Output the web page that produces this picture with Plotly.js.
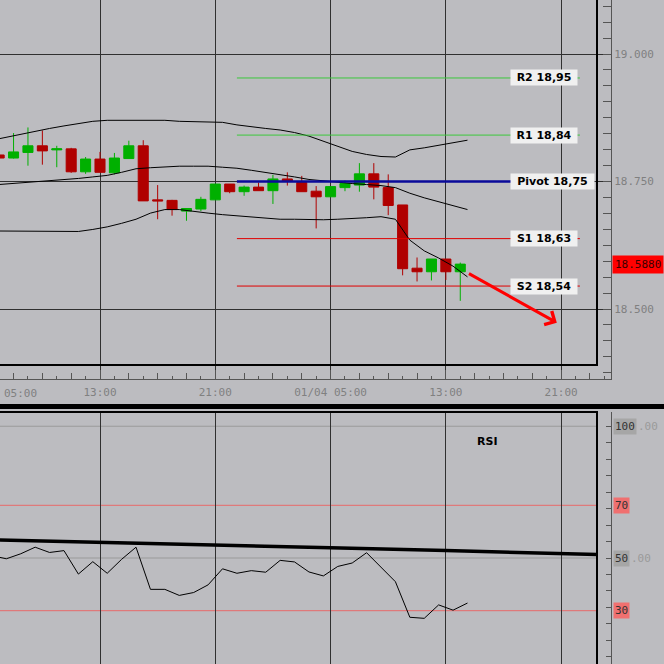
<!DOCTYPE html>
<html><head><meta charset="utf-8">
<script src="https://cdn.plot.ly/plotly-3.0.1.min.js"></script>
<style>html,body{margin:0;padding:0;background:#bcbcc0;}#chart{width:664px;height:664px;}</style>
</head><body><div id="chart"></div>
<script>
// ---- data (hours relative to 31/03 13:00) ----
const hours = [-7,-6,-5,-4,-3,-2,-1,0,1,2,3,4,5,6,7,8,9,10,11,12,13,14,15,16,17,18,19,20,21,22,23,24,25];
const open  = [18.802,18.796,18.807,18.820,18.812,18.814,18.769,18.794,18.767,18.795,18.820,18.714,18.713,18.692,18.696,18.714,18.745,18.730,18.739,18.732,18.755,18.748,18.731,18.720,18.738,18.743,18.765,18.738,18.704,18.580,18.573,18.598,18.573];
const high  = [18.804,18.845,18.856,18.850,18.820,18.816,18.798,18.808,18.806,18.830,18.831,18.743,18.714,18.698,18.720,18.745,18.745,18.742,18.748,18.763,18.768,18.761,18.741,18.740,18.752,18.786,18.786,18.764,18.704,18.601,18.598,18.598,18.591];
const low   = [18.794,18.795,18.781,18.783,18.778,18.767,18.765,18.768,18.764,18.795,18.712,18.676,18.683,18.673,18.692,18.714,18.727,18.722,18.732,18.706,18.742,18.730,18.658,18.720,18.731,18.730,18.715,18.684,18.566,18.554,18.556,18.557,18.516];
const close = [18.796,18.808,18.820,18.810,18.814,18.769,18.794,18.768,18.796,18.820,18.712,18.712,18.695,18.697,18.715,18.745,18.730,18.739,18.732,18.755,18.750,18.730,18.720,18.740,18.746,18.765,18.739,18.703,18.579,18.573,18.598,18.573,18.588];

const indicatorHours = [-7.5,-6.5,-5.5,-4.5,-3.5,-2.5,-1.5,-0.5,0.5,1.5,2.5,3.5,4.5,5.5,6.5,7.5,8.5,9.5,10.5,11.5,12.5,13.5,14.5,15.5,16.5,17.5,18.5,19.5,20.5,21.5,22.5,23.5,24.5,25.5];
const bandUpper  = [18.831,18.837,18.842,18.848,18.854,18.859,18.864,18.868,18.870,18.870,18.871,18.871,18.870,18.868,18.867,18.867,18.866,18.861,18.857,18.854,18.851,18.846,18.839,18.829,18.820,18.809,18.803,18.799,18.798,18.812,18.816,18.821,18.826,18.831];
const bandMiddle = [18.743,18.745,18.747,18.749,18.751,18.753,18.756,18.759,18.762,18.768,18.775,18.777,18.779,18.780,18.780,18.780,18.778,18.776,18.772,18.768,18.764,18.759,18.754,18.751,18.748,18.746,18.744,18.742,18.738,18.727,18.718,18.710,18.702,18.695];
const bandLower  = [18.653,18.653,18.652,18.652,18.652,18.652,18.652,18.656,18.661,18.668,18.676,18.688,18.695,18.695,18.691,18.688,18.685,18.683,18.681,18.678,18.676,18.676,18.675,18.675,18.676,18.677,18.679,18.681,18.676,18.635,18.614,18.600,18.584,18.563];
const rsiValues  = [50.9,49.7,51.6,54.1,52.1,52.8,43.9,48.6,44.2,49.5,54.1,38.1,38.1,35.8,36.9,39.8,45.9,44.2,45.2,44.6,49.1,48.5,44.7,43.2,46.8,48.1,52.0,46.4,41.0,27.5,27.1,32.2,30.2,32.9];

const rsiSignalHours = [-7,0,8,16,24,32,34.5];
const rsiSignal      = [56.8,56.0,55.0,53.9,52.8,51.6,51.3];

const pivotNames  = ['R2','R1','Pivot','S1','S2'];
const pivotLevels = [18.953,18.841,18.750,18.638,18.545];
const pivotLabels = ['R2 18,95','R1 18,84','Pivot 18,75','S1 18,63','S2 18,54'];
const levelSpan   = [9.5,33.3];

const timeTicks  = [0,8,16,24,32];
const timeLabels = ['13:00','21:00','01/04 05:00','13:00','21:00'];
const firstTimeLabel = '05:00';

const rsiLevels = [100,70,50,30];
const arrowFrom = [25.5,18.571];
const arrowTo   = [31.7,18.473];

// ---- geometry helpers (pixels -> paper) ----
const W = 611, H = 664;
const px = v => v / W;
const py = v => 1 - v / H;
const xRange = [-6.94, 35.46];
const yRange = [18.36275, 19.10588];
const y2Range = [9.77, 105.41];
const BG = '#bcbcc0', GRID = '#303030', AX = '#555555', TXT = '#808080';
const MONO = 'DejaVu Sans Mono';

const traces = [];
traces.push({
  type:'candlestick', x:hours, open:open, high:high, low:low, close:close,
  xaxis:'x', yaxis:'y', whiskerwidth:0, hoverinfo:'skip',
  increasing:{line:{color:'#00b000',width:1}, fillcolor:'#00b000'},
  decreasing:{line:{color:'#b00000',width:1}, fillcolor:'#b00000'}
});
[bandUpper, bandMiddle, bandLower].forEach(b => traces.push({
  type:'scatter', mode:'lines', x:indicatorHours, y:b, xaxis:'x', yaxis:'y',
  line:{color:'#000000', width:1}, hoverinfo:'skip'
}));
pivotNames.forEach((n,i) => {
  const col = n === 'Pivot' ? '#0a0a9a' : (n[0] === 'R' ? '#3cc83c' : '#e00000');
  traces.push({type:'scatter', mode:'lines', x:levelSpan, y:[pivotLevels[i],pivotLevels[i]],
    xaxis:'x', yaxis:'y', line:{color:col, width: n === 'Pivot' ? 2.5 : 1}, hoverinfo:'skip'});
});
traces.push({type:'scatter', mode:'lines', x:indicatorHours, y:rsiValues, xaxis:'x2', yaxis:'y2',
  line:{color:'#000000', width:1}, hoverinfo:'skip'});
traces.push({type:'scatter', mode:'lines', x:rsiSignalHours, y:rsiSignal, xaxis:'x2', yaxis:'y2',
  line:{color:'#000000', width:3.5}, hoverinfo:'skip'});

const shapes = [
  {type:'line', xref:'paper', yref:'paper', x0:px(597), x1:px(597), y0:py(366), y1:1, line:{color:'#000', width:2}},
  {type:'line', xref:'paper', yref:'paper', x0:0, x1:px(598), y0:py(365), y1:py(365), line:{color:'#000', width:2}},
  {type:'rect', xref:'paper', yref:'paper', x0:0, x1:px(664), y0:py(409), y1:py(404), fillcolor:'#000', line:{width:0}},
  {type:'line', xref:'paper', yref:'paper', x0:0, x1:px(598), y0:py(412), y1:py(412), line:{color:'#000', width:2}},
  {type:'line', xref:'paper', yref:'paper', x0:px(597), x1:px(597), y0:0, y1:py(412), line:{color:'#000', width:2}}
];
rsiLevels.forEach(v => shapes.push({type:'line', layer:'below', xref:'paper', yref:'y2', x0:0, x1:px(596), y0:v, y1:v,
  line:{color: (v === 70 || v === 30) ? '#e86a6a' : '#9a9a9a', width:1}}));

const annotations = [];
pivotLabels.forEach((t,i) => annotations.push({
  xref:'paper', yref:'y', x:px(510), y:pivotLevels[i], xanchor:'left', yanchor:'middle',
  text:t, showarrow:false, bgcolor:'#f0f0f0', borderpad:1,
  width: pivotNames[i] === 'Pivot' ? 81 : 64, align:'center',
  font:{family:'DejaVu Sans', size:11, color:'#000', weight:'bold'}
}));
annotations.push({xref:'paper', yref:'y', x:px(612), y:close[close.length-1], xanchor:'left', yanchor:'middle',
  text:close[close.length-1].toFixed(4), showarrow:false, bgcolor:'#ff0000', borderpad:2,
  font:{family:MONO, size:11, color:'#3a0000'}});
annotations.push({xref:'paper', yref:'paper', x:px(20), y:py(393), xanchor:'center', yanchor:'middle',
  text:firstTimeLabel, showarrow:false, font:{family:MONO, size:11, color:TXT}});
annotations.push({xref:'x', yref:'y', axref:'x', ayref:'y', x:arrowTo[0], y:arrowTo[1], ax:arrowFrom[0], ay:arrowFrom[1],
  text:'', showarrow:true, arrowhead:4, arrowsize:1, arrowwidth:3, arrowcolor:'#ff0000', standoff:0});
annotations.push({xref:'paper', yref:'paper', x:px(500), y:py(442), text:'RSI', showarrow:false,
  font:{family:'DejaVu Sans', size:11, color:'#000', weight:'bold'}});
rsiLevels.forEach(v => {
  const red = (v === 70 || v === 30);
  annotations.push({xref:'paper', yref:'y2', x:px(613), y:v, xanchor:'left', yanchor:'middle', text:String(v),
    showarrow:false, bgcolor: red ? '#f07070' : '#a6a6a6', borderpad:1, font:{family:MONO, size:11, color:'#333'}});
  if (!red) {
    const w = String(v).length * 6.6 + 2;
    annotations.push({xref:'paper', yref:'y2', x:px(614 + w), y:v, xanchor:'left', yanchor:'middle', text:'.00',
      showarrow:false, font:{family:MONO, size:11, color:'#9a9a9a'}});
  }
});

const layout = {
  width:664, height:664, margin:{l:0, r:53, t:0, b:0},
  paper_bgcolor:BG, plot_bgcolor:BG, showlegend:false, hovermode:false,
  boxgap:0.25, boxgroupgap:0.07,
  xaxis:{domain:[0,1], range:xRange, anchor:'y', rangeslider:{visible:false},
    tickmode:'array', tickvals:timeTicks, ticktext:timeLabels, ticks:'inside', ticklen:9, tickcolor:AX,
    showline:true, linecolor:AX, linewidth:1, showgrid:true, gridcolor:GRID, gridwidth:1, zeroline:false,
    tickfont:{family:MONO, size:11, color:TXT}, ticklabelstandoff:3,
    minor:{tickmode:'linear', tick0:0, dtick:1, ticks:'inside', ticklen:3, tickcolor:AX, showgrid:false}},
  xaxis3:{overlaying:'x', range:xRange, anchor:'y', tickmode:'linear', tick0:0, dtick:2, ticks:'inside', ticklen:6,
    tickcolor:AX, showticklabels:false, showgrid:false, showline:false, zeroline:false},
  yaxis:{domain:[py(379),1], range:yRange, anchor:'x', side:'right', tickmode:'linear', tick0:18.5, dtick:0.25,
    tickformat:'.3f', ticks:'inside', ticklen:8, tickcolor:AX, showline:true, linecolor:AX,
    showgrid:true, gridcolor:GRID, zeroline:false, tickfont:{family:MONO, size:11, color:TXT},
    minor:{tickmode:'linear', tick0:18.5, dtick:0.03125, ticks:'inside', ticklen:8, tickcolor:AX, showgrid:false}},
  xaxis2:{domain:[0,1], range:xRange, anchor:'y2', tickmode:'array', tickvals:timeTicks, showticklabels:false,
    ticks:'', showgrid:true, gridcolor:GRID, showline:false, zeroline:false},
  yaxis2:{domain:[0,py(412)], range:y2Range, anchor:'x2', side:'right', tickmode:'linear', tick0:0, dtick:6.25,
    ticks:'inside', ticklen:5, tickcolor:AX, showline:true, linecolor:AX, showticklabels:false,
    showgrid:false, zeroline:false},
  shapes:shapes, annotations:annotations
};
traces.push({type:'scatter', x:[], y:[], xaxis:'x3', yaxis:'y', hoverinfo:'skip'});
Plotly.newPlot('chart', traces, layout, {staticPlot:true, displayModeBar:false});
</script></body></html>
